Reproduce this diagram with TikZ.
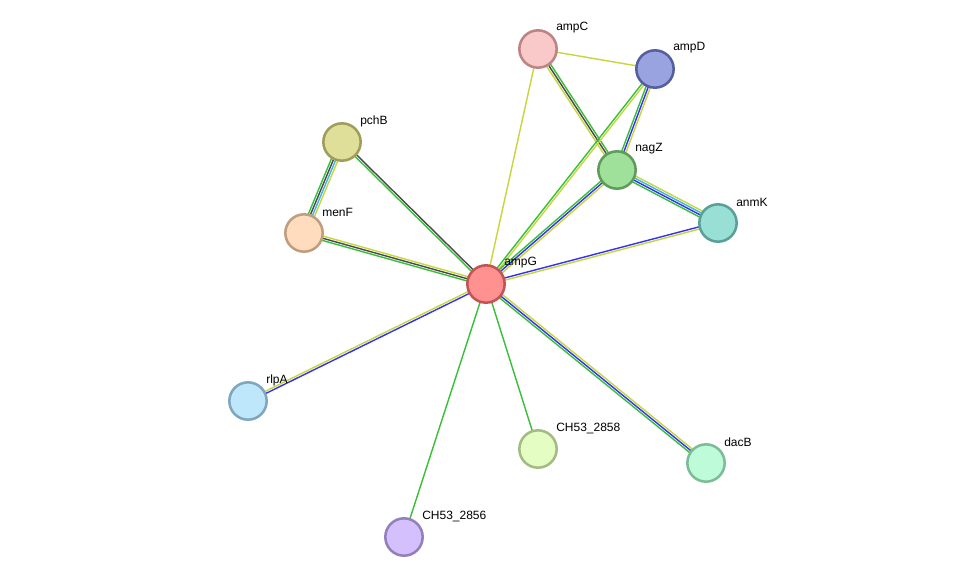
\documentclass[tikz,border=0pt]{standalone}
\usepackage{fontspec}
\setmainfont{Liberation Sans}
\usetikzlibrary{calc,backgrounds}
\definecolor{tm}{RGB}{198,214,60}
\definecolor{nb}{RGB}{56,190,56}
\definecolor{co}{RGB}{50,50,240}
\definecolor{cx}{RGB}{72,72,72}
\definecolor{db}{RGB}{60,180,230}
\definecolor{fampG}{RGB}{255,145,145}\definecolor{bampG}{RGB}{194,84,84}
\definecolor{fampC}{RGB}{249,200,200}\definecolor{bampC}{RGB}{190,132,132}
\definecolor{fampD}{RGB}{152,163,224}\definecolor{bampD}{RGB}{84,95,160}
\definecolor{fnagZ}{RGB}{159,224,154}\definecolor{bnagZ}{RGB}{95,156,91}
\definecolor{fanmK}{RGB}{152,224,214}\definecolor{banmK}{RGB}{90,160,152}
\definecolor{fpchB}{RGB}{223,223,153}\definecolor{bpchB}{RGB}{158,158,90}
\definecolor{fmenF}{RGB}{255,220,190}\definecolor{bmenF}{RGB}{191,158,127}
\definecolor{frlpA}{RGB}{191,231,252}\definecolor{brlpA}{RGB}{127,166,189}
\definecolor{fc2858}{RGB}{227,253,194}\definecolor{bc2858}{RGB}{163,188,131}
\definecolor{fdacB}{RGB}{190,252,217}\definecolor{bdacB}{RGB}{126,188,152}
\definecolor{fc2856}{RGB}{211,192,252}\definecolor{bc2856}{RGB}{148,127,188}
\tikzset{
  prot/.style={circle, minimum size=28pt, inner sep=0pt, line width=1.9pt},
  lbl/.style={anchor=west, font=\fontsize{9}{11}\selectfont, text=black, inner sep=0pt},
  evline/.style={line width=1.05pt},
}
\newcommand\sedge[3]{%
  \foreach \c [count=\i] in {#3} {\xdef\ncnt{\i}}%
  \foreach \c [count=\i] in {#3} {%
    \pgfmathsetmacro\off{(\i-(\ncnt+1)/2)*1.65}%
    \draw[evline, color=\c] ($(#1)!\off pt!90:(#2)$) -- ($(#2)!\off pt!-90:(#1)$);
  }%
}
\newcommand\prot[4]{% name, x, y, label
  \node[prot, fill=f#1, draw=b#1] (#1) at (#2,#3) {};
  \node[lbl] (#1-l) at (#2+18,#3-21) {#4};
}
\begin{document}
\begin{tikzpicture}[x=0.75pt, y=-0.75pt]
\useasboundingbox (0,0) rectangle (975,583);
\prot{ampG}{486}{284}{ampG}
\prot{ampC}{538}{49}{ampC}
\prot{ampD}{655}{69}{ampD}
\prot{nagZ}{617}{170}{nagZ}
\prot{anmK}{718}{223}{anmK}
\prot{pchB}{342}{142}{pchB}
\prot{menF}{304}{233}{menF}
\prot{rlpA}{248}{401}{rlpA}
\prot{c2858}{538}{449}{CH53\_2858}
\prot{dacB}{706}{463}{dacB}
\prot{c2856}{404}{537}{CH53\_2856}
\begin{scope}[on background layer]
\fill[white] (0,0) rectangle (975,583);
\sedge{ampG}{ampC}{tm}
\sedge{ampC}{ampD}{tm}
\sedge{ampC}{nagZ}{tm,cx,nb}
\sedge{ampD}{nagZ}{nb,co,tm}
\sedge{ampD}{ampG}{nb,tm}
\sedge{nagZ}{ampG}{nb,co,tm}
\sedge{nagZ}{anmK}{nb,co,db,tm}
\sedge{anmK}{ampG}{co,tm}
\sedge{pchB}{menF}{nb,cx,db,tm}
\sedge{pchB}{ampG}{nb,cx}
\sedge{menF}{ampG}{nb,cx,tm}
\sedge{rlpA}{ampG}{co,tm}
\sedge{dacB}{ampG}{tm,co,nb}
\sedge{c2858}{ampG}{nb}
\sedge{c2856}{ampG}{nb}
\end{scope}
\end{tikzpicture}
\end{document}
